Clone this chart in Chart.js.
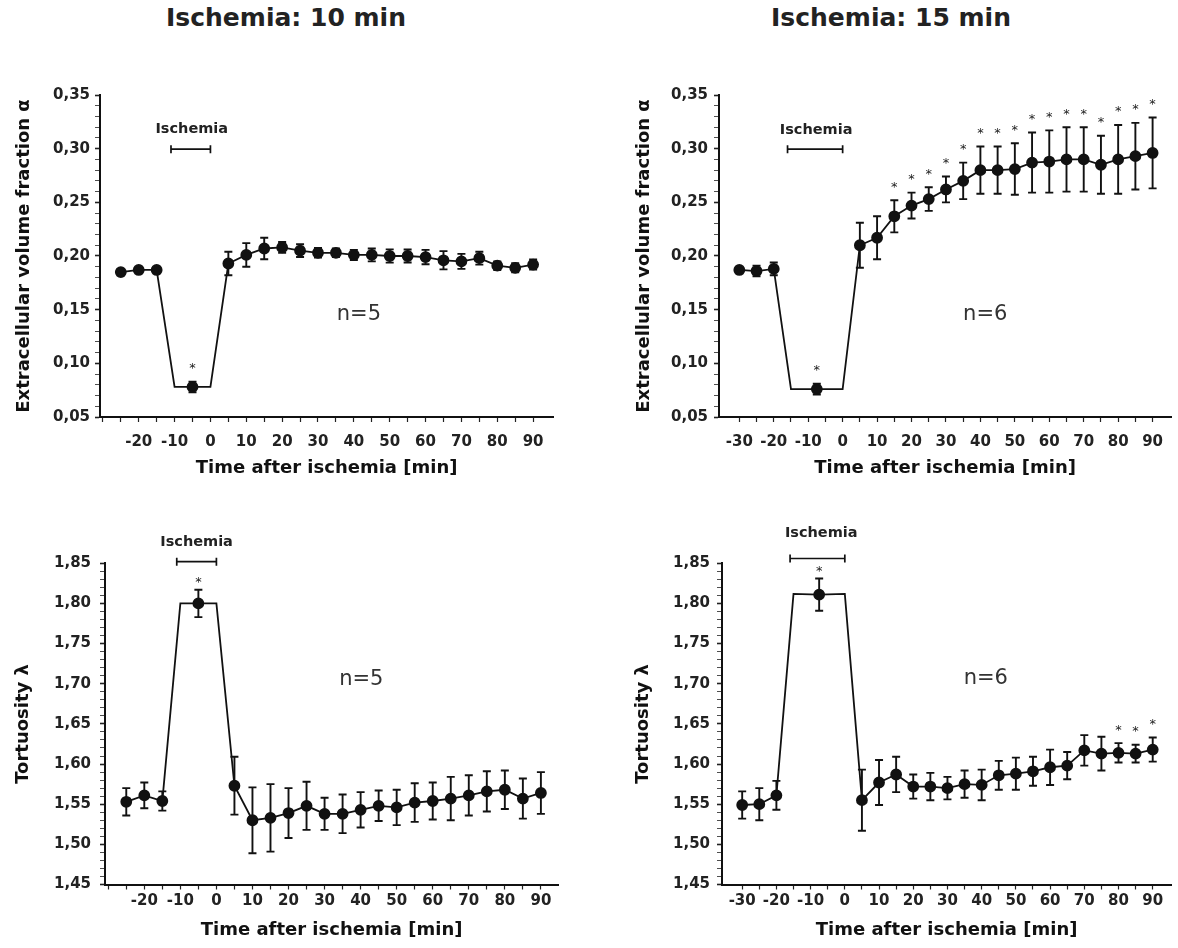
<!DOCTYPE html>
<html>
<head>
<meta charset="utf-8">
<script src="https://cdn.jsdelivr.net/npm/chart.js@4.4.1/dist/chart.umd.min.js"></script>
<style>
body{margin:0;background:#fff;width:1178px;height:948px;position:relative;overflow:hidden;font-family:"DejaVu Sans",sans-serif;}
canvas{position:absolute}
.ttl{position:absolute;top:3px;font-weight:bold;font-size:25px;color:#222;transform:translateX(-50%);white-space:nowrap}
</style>
</head>
<body>
<div class="ttl" style="left:286px">Ischemia: 10 min</div>
<div class="ttl" style="left:891px">Ischemia: 15 min</div>
<canvas id="c1" width="560" height="480" style="left:0;top:0"></canvas>
<canvas id="c2" width="578" height="480" style="left:600px;top:0"></canvas>
<canvas id="c3" width="565" height="448" style="left:0;top:500px"></canvas>
<canvas id="c4" width="578" height="448" style="left:600px;top:500px"></canvas>
<script>
// values: time (min), mean, SEM (null = no marker, only the trace corner)
const alpha10Time = [-25,-20,-15,-10,-5,0,5,10,15,20,25,30,35,40,45,50,55,60,65,70,75,80,85,90];
const alpha10Mean = [0.185,0.187,0.187,0.078,0.078,0.078,0.193,0.201,0.207,0.208,0.205,0.203,0.203,0.201,0.201,0.200,0.200,0.199,0.196,0.195,0.198,0.191,0.189,0.192];
const alpha10Err  = [0.003,0.002,0.002,null,0.005,null,0.011,0.011,0.010,0.005,0.006,0.0044,0.004,0.0047,0.006,0.0062,0.006,0.0067,0.0085,0.007,0.006,0.004,0.0043,0.0047];
const alpha10Stars = [-5];

const alpha15Time = [-30,-25,-20,-15,-7.5,0,5,10,15,20,25,30,35,40,45,50,55,60,65,70,75,80,85,90];
const alpha15Mean = [0.187,0.186,0.188,0.076,0.076,0.076,0.210,0.217,0.237,0.247,0.253,0.262,0.270,0.280,0.280,0.281,0.287,0.288,0.290,0.290,0.285,0.290,0.293,0.296];
const alpha15Err  = [0.002,0.005,0.006,null,0.005,null,0.021,0.020,0.015,0.012,0.011,0.012,0.017,0.022,0.022,0.024,0.028,0.029,0.030,0.030,0.027,0.032,0.031,0.033];
const alpha15Stars = [-7.5,15,20,25,30,35,40,45,50,55,60,65,70,75,80,85,90];

const tort10Time = [-25,-20,-15,-10,-5,0,5,10,15,20,25,30,35,40,45,50,55,60,65,70,75,80,85,90];
const tort10Mean = [1.553,1.561,1.554,1.800,1.800,1.800,1.573,1.530,1.533,1.539,1.548,1.538,1.538,1.543,1.548,1.546,1.552,1.554,1.557,1.561,1.566,1.568,1.557,1.564];
const tort10Err  = [0.017,0.016,0.012,null,0.017,null,0.036,0.041,0.042,0.031,0.030,0.020,0.024,0.022,0.019,0.022,0.024,0.023,0.027,0.025,0.025,0.024,0.025,0.026];
const tort10Stars = [-5];

const tort15Time = [-30,-25,-20,-15,-7.5,0,5,10,15,20,25,30,35,40,45,50,55,60,65,70,75,80,85,90];
const tort15Mean = [1.549,1.550,1.561,1.812,1.811,1.812,1.555,1.577,1.587,1.572,1.572,1.570,1.575,1.574,1.586,1.588,1.591,1.596,1.598,1.617,1.613,1.614,1.613,1.618];
const tort15Err  = [0.017,0.020,0.018,null,0.020,null,0.038,0.028,0.022,0.015,0.017,0.014,0.017,0.019,0.018,0.020,0.018,0.022,0.017,0.019,0.021,0.012,0.011,0.015];
const tort15Stars = [-7.5,80,85,90];

const xTicks = [-30,-25,-20,-15,-10,-5,0,5,10,15,20,25,30,35,40,45,50,55,60,65,70,75,80,85,90];
const xLabels10 = [-20,-10,0,10,20,30,40,50,60,70,80,90];
const xLabels15 = [-30,-20,-10,0,10,20,30,40,50,60,70,80,90];
const ischemia10 = [-11, 0];
const ischemia15 = [-16, 0];

const FONT = '"DejaVu Sans", sans-serif';
const INK = '#111';
Chart.defaults.font.family = FONT;

const decor = {
  id: 'decor',
  beforeDatasetsDraw(chart, args, o) {
    const {ctx, scales: {x, y}} = chart;
    ctx.save();
    ctx.strokeStyle = INK;
    ctx.lineWidth = 1.9;
    o.time.forEach((t, i) => {
      const e = o.err[i];
      if (e == null) return;
      const px = x.getPixelForValue(t);
      const hi = y.getPixelForValue(o.mean[i] + e);
      const lo = y.getPixelForValue(o.mean[i] - e);
      ctx.beginPath();
      ctx.moveTo(px, hi); ctx.lineTo(px, lo);
      ctx.moveTo(px - 4, hi); ctx.lineTo(px + 4, hi);
      ctx.moveTo(px - 4, lo); ctx.lineTo(px + 4, lo);
      ctx.stroke();
    });
    ctx.restore();
  },
  afterDraw(chart, args, o) {
    const {ctx, scales: {x, y}} = chart;
    ctx.save();
    // significance stars
    ctx.fillStyle = '#222';
    ctx.font = '13px ' + FONT;
    ctx.textAlign = 'center';
    ctx.textBaseline = 'middle';
    o.stars.forEach(t => {
      const i = o.time.indexOf(t);
      const hi = y.getPixelForValue(o.mean[i] + o.err[i]);
      const gap = t === o.starIschT ? o.ischStarGap : o.starGap;
      ctx.fillText('*', x.getPixelForValue(t), hi - gap + 3);
    });
    // ischemia bar
    const bx0 = x.getPixelForValue(o.isch[0]), bx1 = x.getPixelForValue(o.isch[1]);
    const by = y.getPixelForValue(o.ischY);
    ctx.strokeStyle = INK;
    ctx.lineWidth = 1.7;
    ctx.beginPath();
    ctx.moveTo(bx0, by); ctx.lineTo(bx1, by);
    ctx.moveTo(bx0, by - 4); ctx.lineTo(bx0, by + 4);
    ctx.moveTo(bx1, by - 4); ctx.lineTo(bx1, by + 4);
    ctx.stroke();
    ctx.font = 'bold 14.5px ' + FONT;
    ctx.fillText('Ischemia', x.getPixelForValue(o.ischLabelX), by - o.ischLabelGap);
    // n label
    ctx.font = '21px ' + FONT;
    ctx.fillStyle = '#333';
    ctx.fillText(o.nText, x.getPixelForValue(o.nX), y.getPixelForValue(o.nY));
    ctx.restore();
  }
};

const panels = [
  {id: 'c1', time: alpha10Time, mean: alpha10Mean, err: alpha10Err, stars: alpha10Stars, starIschT: -5,
   xMin: -30.8, xMax: 95.6, yMin: 0.05, yMax: 0.35, yTitle: 'Extracellular volume fraction α', xLabels: xLabels10,
   isch: ischemia10, ischY: 0.2995, ischLabelX: -5.2, ischLabelGap: 20, nText: 'n=5', nX: 41.4, nY: 0.145,
   pad: {top: 95, right: 5, left: 0, bottom: 0}, yW: 100, xH: 63, yTitlePad: 14, yTickPad: 5, xTickPad: 11, xTitlePad: 1,
   starGap: 16, ischStarGap: 16},
  {id: 'c2', time: alpha15Time, mean: alpha15Mean, err: alpha15Err, stars: alpha15Stars, starIschT: -7.5,
   xMin: -35.9, xMax: 95.4, yMin: 0.05, yMax: 0.35, yTitle: 'Extracellular volume fraction α', xLabels: xLabels15,
   isch: ischemia15, ischY: 0.2995, ischLabelX: -7.7, ischLabelGap: 19, nText: 'n=6', nX: 41.4, nY: 0.145,
   pad: {top: 95, right: 1, left: 0, bottom: 0}, yW: 119, xH: 63, yTitlePad: 34, yTickPad: 6, xTickPad: 11, xTitlePad: 1,
   starGap: 16, ischStarGap: 16},
  {id: 'c3', time: tort10Time, mean: tort10Mean, err: tort10Err, stars: tort10Stars, starIschT: -5,
   xMin: -30.9, xMax: 94.8, yMin: 1.45, yMax: 1.85, yTitle: 'Tortuosity λ', xLabels: xLabels10,
   isch: ischemia10, ischY: 1.852, ischLabelX: -5.5, ischLabelGap: 19, nText: 'n=5', nX: 40.2, nY: 1.705,
   pad: {top: 63.3, right: 5, left: 0, bottom: 0}, yW: 105, xH: 63.5, yTitlePad: 13, yTickPad: 9, xTickPad: 3, xTitlePad: 7,
   starGap: 16, ischStarGap: 10},
  {id: 'c4', time: tort15Time, mean: tort15Mean, err: tort15Err, stars: tort15Stars, starIschT: -7.5,
   xMin: -35.9, xMax: 95.4, yMin: 1.45, yMax: 1.85, yTitle: 'Tortuosity λ', xLabels: xLabels15,
   isch: ischemia15, ischY: 1.856, ischLabelX: -6.9, ischLabelGap: 25, nText: 'n=6', nX: 41.2, nY: 1.706,
   pad: {top: 63.3, right: 1, left: 0, bottom: 0}, yW: 122, xH: 63.5, yTitlePad: 33, yTickPad: 7, xTickPad: 3, xTitlePad: 7,
   starGap: 16, ischStarGap: 10}
];

panels.forEach(p => {
  const isMajor = v => Math.round(v * 100) % 5 === 0;
  new Chart(document.getElementById(p.id), {
    type: 'line',
    data: {
      datasets: [{
        data: p.time.map((t, i) => ({x: t, y: p.mean[i]})),
        borderColor: INK,
        borderWidth: 1.8,
        backgroundColor: INK,
        pointBackgroundColor: INK,
        pointBorderColor: INK,
        pointRadius: c => p.err[c.dataIndex] == null ? 0 : 5,
        tension: 0,
        clip: false
      }]
    },
    options: {
      responsive: false,
      animation: false,
      layout: {padding: p.pad},
      plugins: {
        legend: {display: false},
        tooltip: {enabled: false},
        decor: p
      },
      scales: {
        x: {
          type: 'linear', min: p.xMin, max: p.xMax,
          afterFit: s => { s.height = p.xH; },
          afterBuildTicks: s => { s.ticks = xTicks.map(v => ({value: v})); },
          ticks: {
            autoSkip: false, maxRotation: 0, padding: p.xTickPad,
            font: {size: 15, weight: 'bold'}, color: '#222',
            callback: v => p.xLabels.includes(v) ? String(v) : ''
          },
          grid: {drawOnChartArea: false, drawTicks: true, tickLength: 5, tickColor: '#222', tickWidth: 1.2},
          border: {display: true, color: INK, width: 2},
          title: {display: true, text: 'Time after ischemia [min]', color: '#111',
                  font: {size: 18, weight: 'bold'}, padding: {top: 0, bottom: p.xTitlePad}}
        },
        y: {
          type: 'linear', min: p.yMin, max: p.yMax,
          afterFit: s => { s.width = p.yW; },
          afterBuildTicks: s => {
            const t = [];
            for (let k = Math.round(p.yMin * 100); k <= Math.round(p.yMax * 100); k++) t.push({value: k / 100});
            s.ticks = t;
          },
          ticks: {
            autoSkip: false, padding: p.yTickPad,
            font: {size: 15, weight: 'bold'}, color: '#222',
            callback: v => isMajor(v) ? v.toFixed(2).replace('.', ',') : ''
          },
          grid: {
            drawOnChartArea: false, drawTicks: true, tickColor: '#222',
            tickLength: 5,
            tickWidth: c => c.tick && isMajor(c.tick.value) ? 1.6 : 0.8
          },
          border: {display: true, color: INK, width: 2},
          title: {display: true, text: p.yTitle, color: '#111',
                  font: {size: 18, weight: 'bold'}, padding: {top: p.yTitlePad, bottom: 0}}
        }
      }
    },
    plugins: [decor]
  });
});
</script>
</body>
</html>
